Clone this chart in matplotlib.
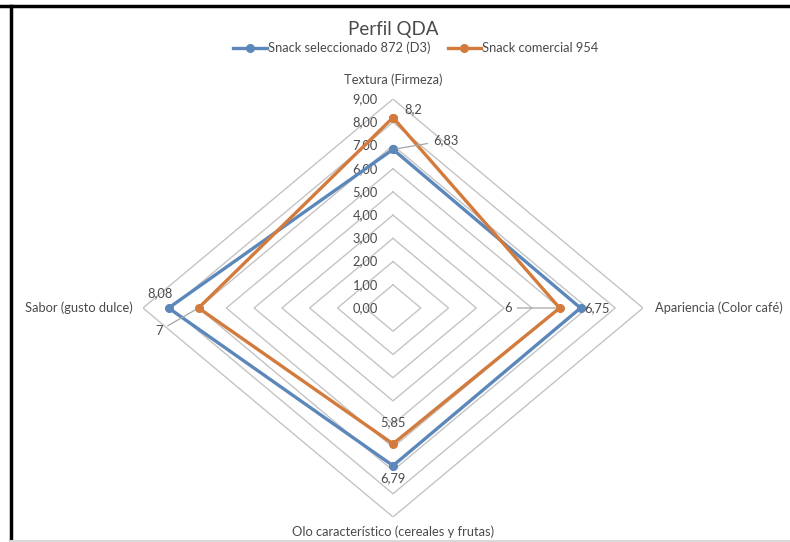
import numpy as np
import matplotlib
matplotlib.use('Agg')
from matplotlib import pyplot as plt
from matplotlib.lines import Line2D

plt.rcParams['font.family'] = ['Lato', 'DejaVu Sans']

# Perfil QDA - datos del panel
categorias = ['Textura (Firmeza)', 'Apariencia (Color café)',
              'Olo característico (cereales y frutas)', 'Sabor (gusto dulce)']
snack_872 = [6.83, 6.75, 6.79, 8.08]
snack_954 = [8.2, 6, 5.85, 7]
series = ['Snack seleccionado 872 (D3)', 'Snack comercial 954']
niveles = [1, 2, 3, 4, 5, 6, 7, 8, 9]
etiquetas_eje = ['0,00', '1,00', '2,00', '3,00', '4,00', '5,00', '6,00', '7,00', '8,00', '9,00']

azul = '#5B87BA'
naranja = '#D27B3D'
gris_txt = '#4A4A4A'
gris_red = '#C4C4C4'
fs = 9.3

# direcciones de los ejes: arriba, derecha, abajo, izquierda
dx = np.array([0, 1, 0, -1])
dy = np.array([1, 0, -1, 0])


def poligono(vals):
    vals = np.asarray(vals, dtype=float)
    x = np.append(dx * vals, dx[0] * vals[0])
    y = np.append(dy * vals, dy[0] * vals[0])
    return x, y


fig = plt.figure(figsize=(7.9, 5.42), dpi=100)
ax = fig.add_axes([143 / 790, 25 / 542, 500 / 790, 418 / 542])
ax.set_xlim(-9, 9)
ax.set_ylim(-9, 9)
ax.axis('off')

# red de rombos
for n in niveles:
    gx, gy = poligono([n] * 4)
    ax.plot(gx, gy, color=gris_red, lw=1.0, zorder=1)

# escala sobre el eje vertical
for i, t in enumerate(etiquetas_eje):
    ax.annotate(t, (0, i), xytext=(-15, 0), textcoords='offset pixels',
                ha='right', va='center', fontsize=fs, color=gris_txt)

for vals, col in [(snack_872, azul), (snack_954, naranja)]:
    px, py = poligono(vals)
    ax.plot(px, py, color=col, lw=2.4, marker='o', markersize=5.5, zorder=3,
            solid_joinstyle='miter')

# nombres de las categorias
ax.annotate(categorias[0], (0, 9), xytext=(0, 19), textcoords='offset pixels',
            ha='center', va='center', fontsize=fs, color=gris_txt)
ax.annotate(categorias[1], (9, 0), xytext=(12, 0), textcoords='offset pixels',
            ha='left', va='center', fontsize=fs, color=gris_txt)
ax.annotate(categorias[2], (0, -9), xytext=(0, -15), textcoords='offset pixels',
            ha='center', va='center', fontsize=fs, color=gris_txt)
ax.annotate(categorias[3], (-9, 0), xytext=(-10, 0), textcoords='offset pixels',
            ha='right', va='center', fontsize=fs, color=gris_txt)


def fmt(v):
    return ('%g' % v).replace('.', ',')


def etiqueta(x, y, v, off, ha='center', linea=False):
    props = dict(arrowstyle='-', color='#A6A6A6', lw=0.9, shrinkA=2, shrinkB=3) if linea else None
    ax.annotate(fmt(v), (x, y), xytext=off, textcoords='offset pixels',
                ha=ha, va='center', fontsize=fs, color=gris_txt,
                arrowprops=props, zorder=4)


# etiquetas de datos
etiqueta(0, snack_954[0], snack_954[0], (20, 8))
etiqueta(0, snack_872[0], snack_872[0], (40, 9), ha='left', linea=True)
etiqueta(snack_954[1], 0, snack_954[1], (-48, 0), ha='right', linea=True)
etiqueta(snack_872[1], 0, snack_872[1], (4, 0), ha='left')
etiqueta(0, -snack_954[2], snack_954[2], (0, 22))
etiqueta(0, -snack_872[2], snack_872[2], (0, -12))
etiqueta(-snack_872[3], 0, snack_872[3], (-8, 15))
etiqueta(-snack_954[3], 0, snack_954[3], (-36, -23), ha='right', linea=True)

fig.text(393 / 790, 1 - 30 / 542, 'Perfil QDA', ha='center', va='center',
         fontsize=13.5, color=gris_txt)

handles = [Line2D([], [], color=azul, lw=2.4, marker='o', markersize=5.5),
           Line2D([], [], color=naranja, lw=2.4, marker='o', markersize=5.5)]
fig.legend(handles, series, loc='center', bbox_to_anchor=(416 / 790, 1 - 48 / 542),
           ncol=2, frameon=False, fontsize=fs, labelcolor=gris_txt,
           handlelength=2.6, handletextpad=0.1, columnspacing=1.3)

# marco
fig.add_artist(Line2D([0, 1], [1 - 6 / 542, 1 - 6 / 542], color='black', lw=2.5,
                      transform=fig.transFigure))
fig.add_artist(Line2D([11 / 790, 11 / 790], [0, 1 - 6 / 542], color='black', lw=2.5,
                      transform=fig.transFigure))
fig.add_artist(Line2D([11 / 790, 1], [1.5 / 542, 1.5 / 542], color='#D9D9D9', lw=1.5,
                      transform=fig.transFigure))

fig.savefig('out.png', dpi=100)
